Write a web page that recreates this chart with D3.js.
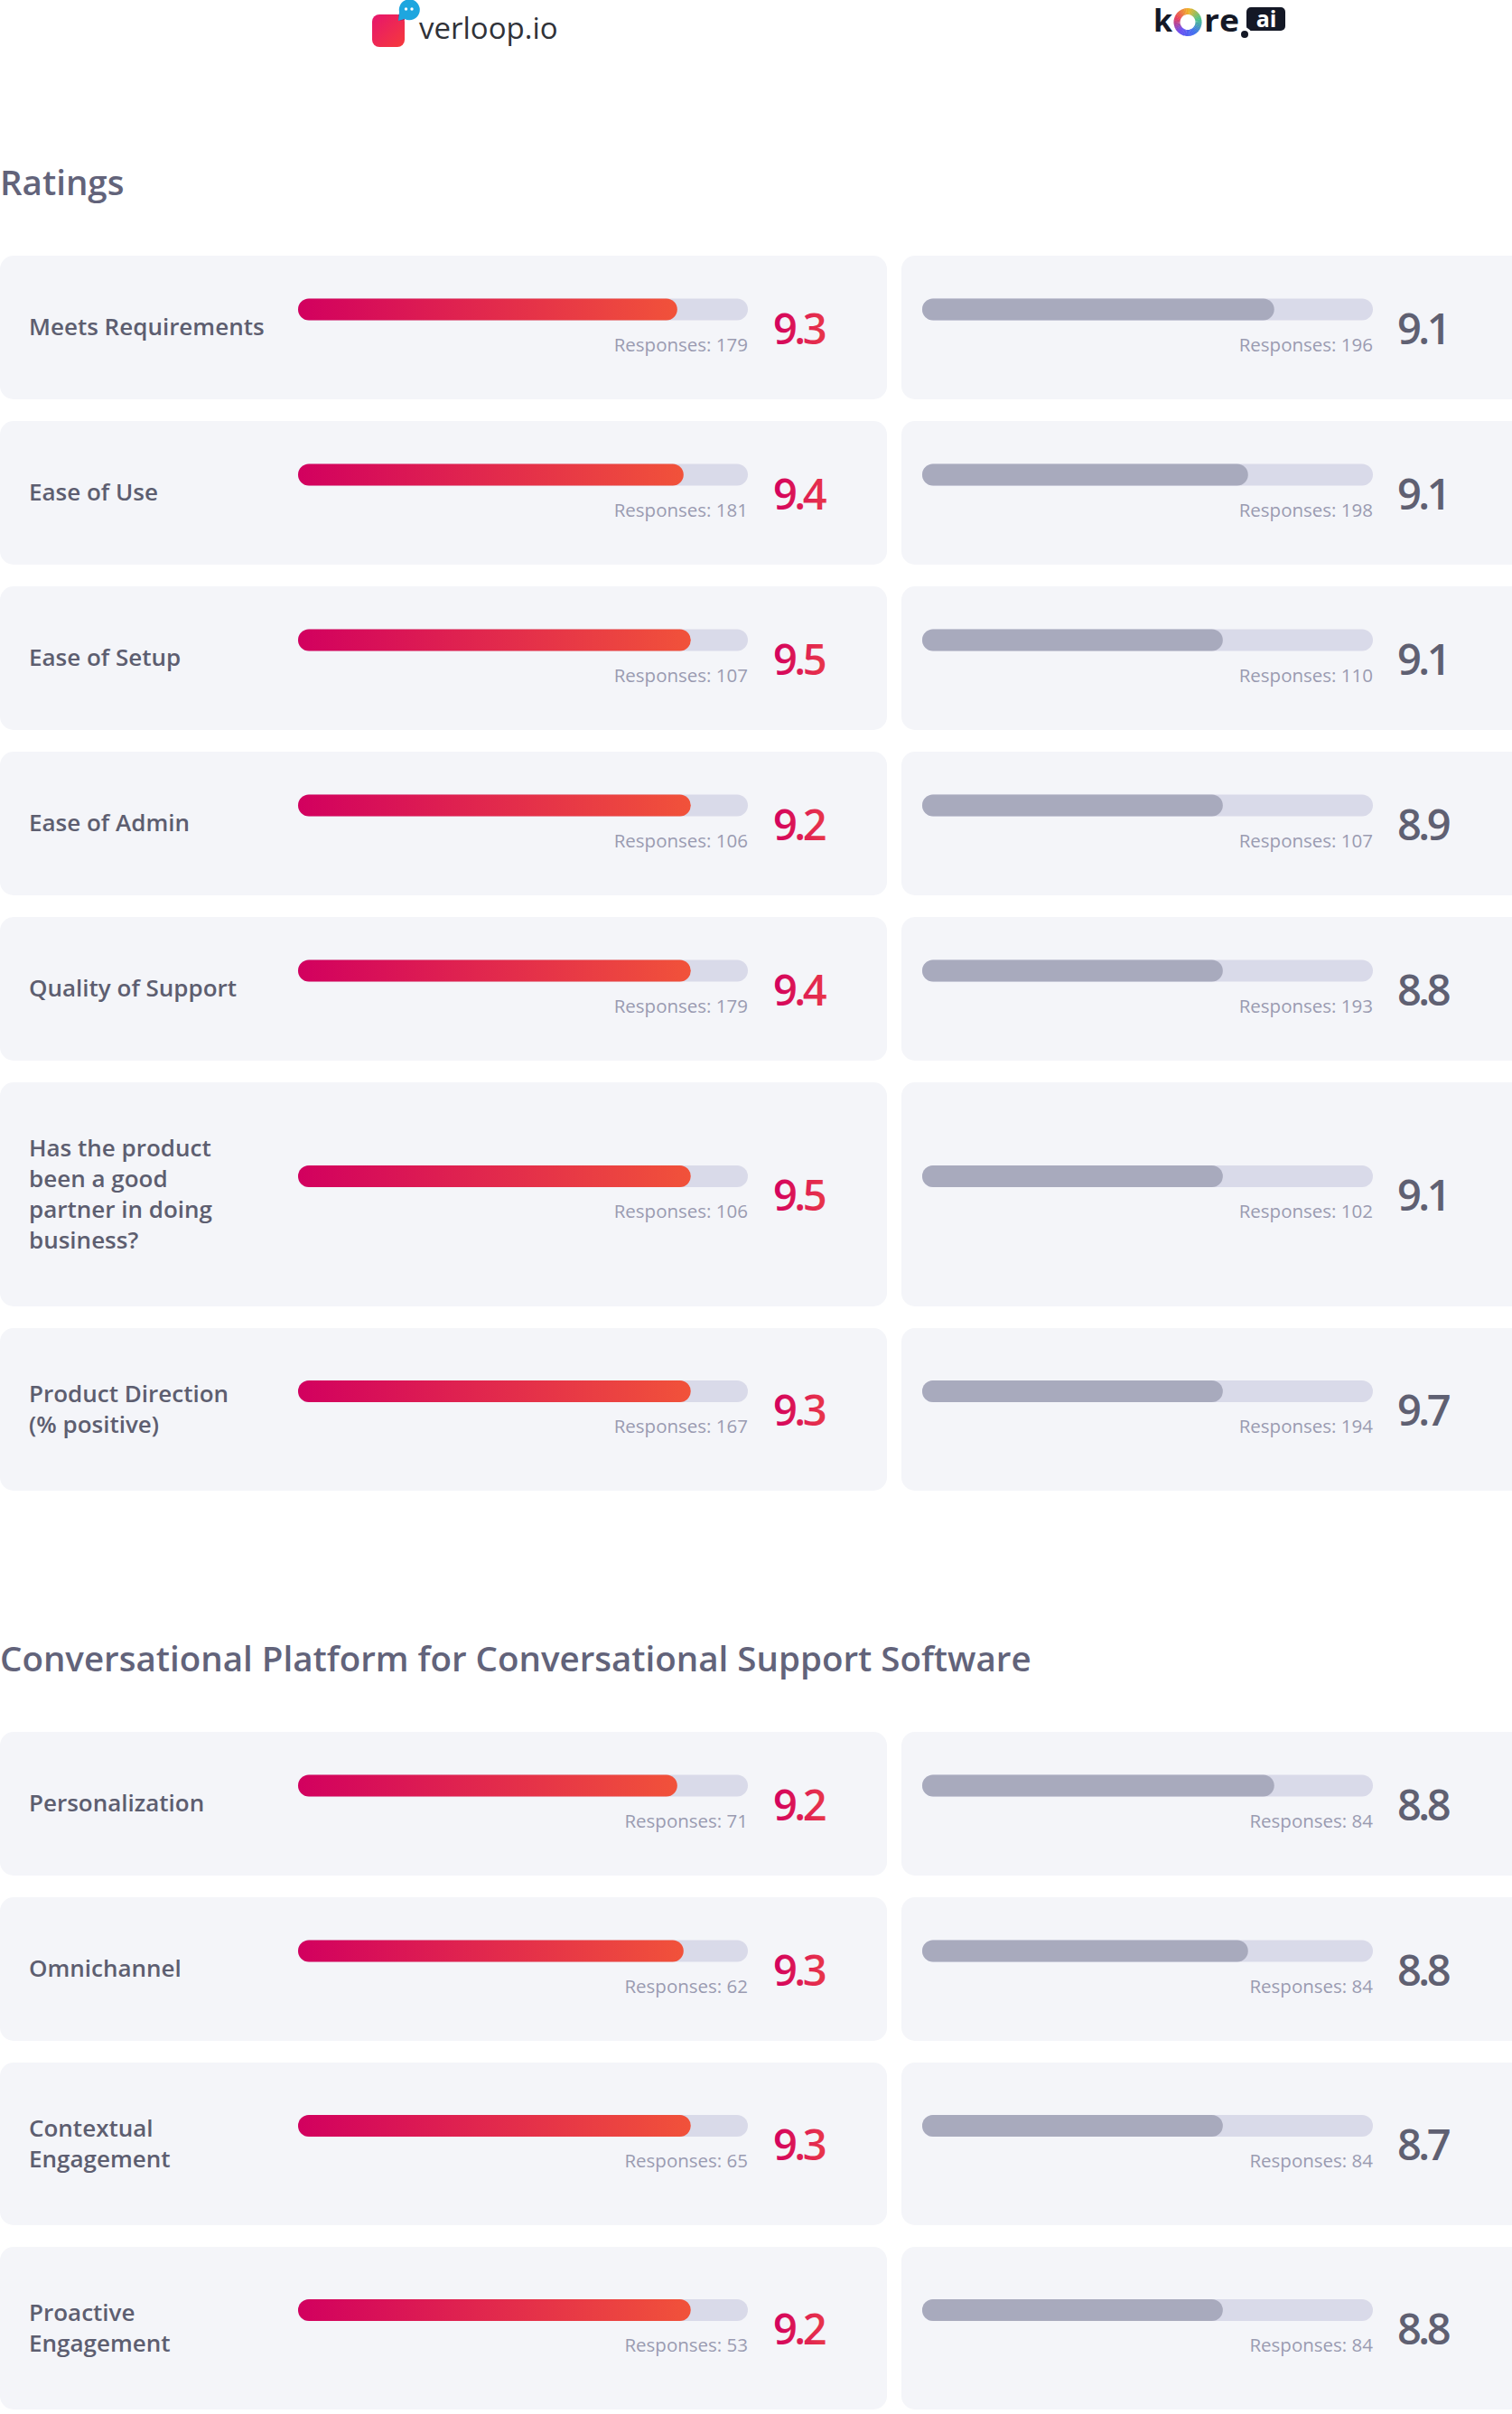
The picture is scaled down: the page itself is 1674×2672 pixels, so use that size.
<!DOCTYPE html>
<html>
<head>
<meta charset="utf-8">
<script src="https://cdn.jsdelivr.net/npm/d3@7"></script>
<style>
  html, body { margin: 0; padding: 0; background: #ffffff; }
  svg { display: block; }
  text { font-family: "Open Sans", "Lato", sans-serif; }
</style>
</head>
<body>
<svg id="chart" width="1674" height="2672"></svg>
<script>
// ---------------- DATA ----------------
const products = ["verloop.io", "kore.ai"];

const sectionTitles = ["Ratings", "Conversational Platform for Conversational Support Software"];

// labels: "|" marks a line break as shown in the picture
const ratingCategories = [
  "Meets Requirements",
  "Ease of Use",
  "Ease of Setup",
  "Ease of Admin",
  "Quality of Support",
  "Has the product|been a good|partner in doing|business?",
  "Product Direction|(% positive)"
];
const verloopRatingScores    = [9.3, 9.4, 9.5, 9.2, 9.4, 9.5, 9.3];
const verloopRatingResponses = [179, 181, 107, 106, 179, 106, 167];
const koreRatingScores       = [9.1, 9.1, 9.1, 8.9, 8.8, 9.1, 9.7];
const koreRatingResponses    = [196, 198, 110, 107, 193, 102, 194];
// bar fill level (% of track) as drawn in the picture
const verloopRatingBars      = [84.3, 85.7, 87.3, 87.3, 87.3, 87.3, 87.3];
const koreRatingBars         = [78.1, 72.3, 66.7, 66.7, 66.7, 66.7, 66.7];

const convCategories = [
  "Personalization",
  "Omnichannel",
  "Contextual|Engagement",
  "Proactive|Engagement"
];
const verloopConvScores    = [9.2, 9.3, 9.3, 9.2];
const verloopConvResponses = [71, 62, 65, 53];
const koreConvScores       = [8.8, 8.8, 8.7, 8.8];
const koreConvResponses    = [84, 84, 84, 84];
const verloopConvBars      = [84.3, 85.7, 87.3, 87.3];
const koreConvBars         = [78.1, 72.3, 66.7, 66.7];

// ---------------- BUILD ----------------
const sections = [
  { title: sectionTitles[0], cats: ratingCategories,
    vS: verloopRatingScores, vR: verloopRatingResponses, vB: verloopRatingBars,
    kS: koreRatingScores, kR: koreRatingResponses, kB: koreRatingBars },
  { title: sectionTitles[1], cats: convCategories,
    vS: verloopConvScores, vR: verloopConvResponses, vB: verloopConvBars,
    kS: koreConvScores, kR: koreConvResponses, kB: koreConvBars }
];

const svg = d3.select("#chart");
const defs = svg.append("defs");

const barGrad = defs.append("linearGradient").attr("id", "barGrad")
  .attr("x1", "0%").attr("x2", "100%").attr("y1", "0%").attr("y2", "0%");
barGrad.append("stop").attr("offset", "0%").attr("stop-color", "#d2005f");
barGrad.append("stop").attr("offset", "100%").attr("stop-color", "#f1523a");

const valGrad = defs.append("linearGradient").attr("id", "valGrad")
  .attr("x1", "0%").attr("x2", "100%").attr("y1", "0%").attr("y2", "0%");
valGrad.append("stop").attr("offset", "0%").attr("stop-color", "#d3005e");
valGrad.append("stop").attr("offset", "100%").attr("stop-color", "#e8364a");

const sqGrad = defs.append("linearGradient").attr("id", "sqGrad")
  .attr("x1", "0%").attr("x2", "100%").attr("y1", "0%").attr("y2", "100%");
sqGrad.append("stop").attr("offset", "0%").attr("stop-color", "#e6156d");
sqGrad.append("stop").attr("offset", "100%").attr("stop-color", "#f63a3b");

// column geometry
const cols = [
  { cardX: 0,   cardW: 982, trackX: 330,  trackW: 498, valX: 856,  fill: "url(#barGrad)", valFill: "url(#valGrad)" },
  { cardX: 998, cardW: 690, trackX: 1021, trackW: 499, valX: 1547, fill: "#a8aabd",       valFill: "#5f6072" }
];
const barScale = d3.scaleLinear().domain([0, 100]).range([0, 498]);

const lineH = 34;
let titleBaseline = 216;

sections.forEach((sec, si) => {
  svg.append("text")
    .attr("x", 0).attr("y", titleBaseline)
    .attr("font-size", 38.5).attr("font-weight", 600)
    .attr("fill", "#62637a")
    .text(sec.title);

  let y = titleBaseline + 67;
  sec.cats.forEach((cat, i) => {
    const lines = cat.split("|");
    const h = Math.max(159, lines.length * lineH + 112);
    const cy = y + h / 2;
    const g = svg.append("g");

    cols.forEach((c, ci) => {
      g.append("rect")
        .attr("x", c.cardX).attr("y", y)
        .attr("width", c.cardW).attr("height", h)
        .attr("rx", 15).attr("fill", "#f4f5f9");

      const scale = barScale.copy().range([0, c.trackW]);
      const level = ci === 0 ? sec.vB[i] : sec.kB[i];
      const score = ci === 0 ? sec.vS[i] : sec.kS[i];
      const resp  = ci === 0 ? sec.vR[i] : sec.kR[i];

      g.append("rect")
        .attr("x", c.trackX).attr("y", cy - 32)
        .attr("width", scale(100)).attr("height", 24)
        .attr("rx", 12).attr("fill", "#d9dae9");
      g.append("rect")
        .attr("x", c.trackX).attr("y", cy - 32)
        .attr("width", scale(level)).attr("height", 24)
        .attr("rx", 12).attr("fill", c.fill);

      g.append("text")
        .attr("x", c.trackX + c.trackW).attr("y", cy + 26)
        .attr("text-anchor", "end")
        .attr("font-size", 20.5).attr("fill", "#9a9bb1")
        .text("Responses: " + resp);

      g.append("text")
        .attr("x", c.valX).attr("y", cy + 18)
        .attr("font-size", 47).attr("font-weight", 600)
        .attr("letter-spacing", -3.5)
        .attr("fill", c.valFill)
        .text(d3.format(".1f")(score));
    });

    const lbl = g.append("text")
      .attr("x", 32)
      .attr("font-size", 26).attr("font-weight", 600).attr("fill", "#5d5e70");
    const firstBase = cy + 8.5 - (lines.length - 1) * lineH / 2;
    lines.forEach((ln, li) => {
      lbl.append("tspan").attr("x", 32).attr("y", firstBase + li * lineH).text(ln);
    });

    y += h + 24;
  });
  titleBaseline = y - 24 + 200;
});

// ---------------- LOGOS ----------------
// verloop.io
const vl = svg.append("g");
vl.append("rect").attr("x", 412).attr("y", 16).attr("width", 36).attr("height", 36)
  .attr("rx", 8).attr("fill", "url(#sqGrad)");
vl.append("path").attr("d", "M441,16 L448,16 L448,22 L441,23 Z").attr("fill", "#b3124c");
vl.append("path").attr("d", "M442,13 A11.5,11.5 0 1 1 448,21 L441,23 Z").attr("fill", "#1ea6df");
vl.append("circle").attr("cx", 449.5).attr("cy", 10).attr("r", 1.7).attr("fill", "#fff");
vl.append("circle").attr("cx", 456).attr("cy", 10).attr("r", 1.7).attr("fill", "#fff");
vl.append("text").attr("x", 464).attr("y", 43)
  .attr("font-size", 33).attr("fill", "#303238")
  .text(products[0]);

// kore.ai
const kl = svg.append("g");
kl.append("text").attr("x", 1277).attr("y", 35)
  .attr("font-size", 34).attr("font-weight", 700).attr("fill", "#141826").text("k");
const ringCx = 1315, ringCy = 24.5;
const ringColors = d3.scaleLinear()
  .domain([0, 0.2, 0.4, 0.6, 0.8, 1])
  .range(["#f0b429", "#4cc38a", "#3f6ff0", "#6a4ff2", "#e8405a", "#f0b429"]);
const ringArc = d3.arc().innerRadius(8.5).outerRadius(15.5);
const nSeg = 48;
d3.range(nSeg).forEach(s => {
  kl.append("path")
    .attr("transform", `translate(${ringCx},${ringCy})`)
    .attr("d", ringArc({ startAngle: s / nSeg * 2 * Math.PI, endAngle: (s + 1.2) / nSeg * 2 * Math.PI }))
    .attr("fill", ringColors(s / nSeg));
});
kl.append("text").attr("x", 1333).attr("y", 35)
  .attr("font-size", 34).attr("font-weight", 700).attr("fill", "#141826")
  .attr("textLength", 39).attr("lengthAdjust", "spacingAndGlyphs").text("re");
kl.append("rect").attr("x", 1380).attr("y", 8).attr("width", 43).attr("height", 26)
  .attr("rx", 5).attr("fill", "#141826");
kl.append("circle").attr("cx", 1378).attr("cy", 38).attr("r", 7.5).attr("fill", "#fff");
kl.append("circle").attr("cx", 1378).attr("cy", 38).attr("r", 4).attr("fill", "#141826");
kl.append("text").attr("x", 1402).attr("y", 30).attr("text-anchor", "middle")
  .attr("font-size", 25).attr("font-weight", 700).attr("fill", "#fff").text("ai");
</script>
</body>
</html>
